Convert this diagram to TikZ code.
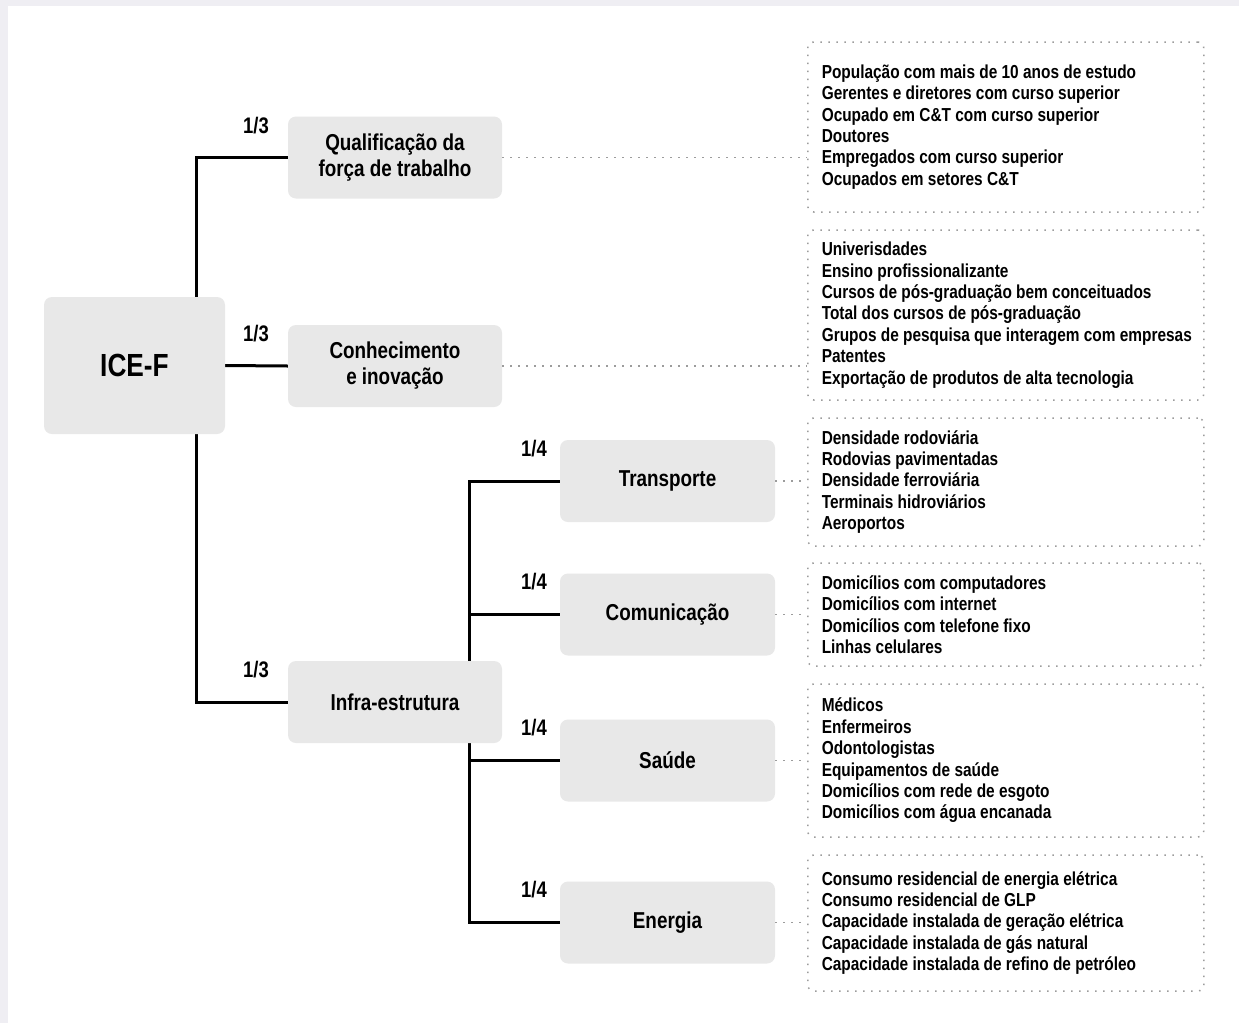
\documentclass[tikz,border=0pt]{standalone}
\usepackage{fontspec}
\setmainfont{Liberation Sans}[FakeStretch=0.82]
\usepackage{tikz}
\usetikzlibrary{
  positioning,
  backgrounds,
  calc
}
\definecolor{iceBox}{HTML}{E8E8E8}
\definecolor{iceDots}{HTML}{9C9C9C}
\definecolor{iceFrame}{HTML}{EFEEF3}
\tikzset{
  dimbox/.style={
    fill=iceBox, rounded corners=8pt, minimum width=214pt, minimum height=82pt,
    align=center, inner sep=0pt, font=\fontsize{23}{26}\selectfont\bfseries
  },
  rootbox/.style={dimbox, minimum width=181pt, minimum height=137pt, font=\fontsize{32}{36}\selectfont\bfseries},
  subbox/.style={dimbox, minimum width=215pt},
  listbox/.style={
    draw=iceDots, line width=1.5pt, dash pattern=on 1.5pt off 6.5pt, rounded corners=6pt,
    text width=368pt, inner xsep=14pt, inner ysep=0pt, anchor=west, align=left,
    font=\fontsize{18.8}{21.4}\selectfont\bfseries,
    execute at begin node={\spaceskip=0pt\xspaceskip=0pt}
  },
  weight/.style={font=\fontsize{22.5}{24}\selectfont\bfseries, inner sep=0pt},
  tree/.style={line width=3pt, black},
  leader/.style={draw=iceDots, line width=1.5pt, dash pattern=on 1.5pt off 6.5pt}
}

\begin{document}
\begin{tikzpicture}[x=1pt, y=-1pt]
  % dimensions
  \node[rootbox] (ice) at (134.5,365.5) {ICE-F};
  \node[dimbox] (qual) at (395,157.5) {Qualificação da\\força de trabalho};
  \node[dimbox] (conh) at (395,366) {Conhecimento\\e inovação};
  \node[dimbox] (infra) at (395,702) {Infra-estrutura};
  \node[subbox] (transp) at (667.5,481) {Transporte};
  \node[subbox] (comun) at (667.5,614.5) {Comunicação};
  \node[subbox] (saude) at (667.5,760.5) {Saúde};
  \node[subbox] (energ) at (667.5,922.5) {Energia};

  % weights
  \node[weight] (wqual) at (256,126) {1/3};
  \node[weight] (wconh) at (256,334) {1/3};
  \node[weight] (winfra) at (256,670) {1/3};
  \node[weight] (wtransp) at (534,449) {1/4};
  \node[weight] (wcomun) at (534,582) {1/4};
  \node[weight] (wsaude) at (534,728) {1/4};
  \node[weight] (wenerg) at (534,890) {1/4};

  % indicators
  \node[listbox, minimum height=170pt] (lqual) at (807,127) {População com mais de 10 anos de estudo\\
    Gerentes e diretores com curso superior\\
    Ocupado em C\&T com curso superior\\
    Doutores\\
    Empregados com curso superior\\
    Ocupados em setores C\&T};
  \node[listbox, minimum height=170pt] (lconh) at (807,315) {Univerisdades\\
    Ensino profissionalizante\\
    Cursos de pós-graduação bem conceituados\\
    Total dos cursos de pós-graduação\\
    \mbox{Grupos de pesquisa que interagem com empresas}\\
    Patentes\\
    Exportação de produtos de alta tecnologia};
  \node[listbox, minimum height=128pt] (ltransp) at (807,482) {Densidade rodoviária\\
    Rodovias pavimentadas\\
    Densidade ferroviária\\
    Terminais hidroviários\\
    Aeroportos};
  \node[listbox, minimum height=103pt] (lcomun) at (807,614.5) {Domicílios com computadores\\
    Domicílios com internet\\
    Domicílios com telefone fixo\\
    Linhas celulares};
  \node[listbox, minimum height=153pt] (lsaude) at (807,760.5) {Médicos\\
    Enfermeiros\\
    Odontologistas\\
    Equipamentos de saúde\\
    Domicílios com rede de esgoto\\
    Domicílios com água encanada};
  \node[listbox, minimum height=136pt] (lenerg) at (807,923) {Consumo residencial de energia elétrica\\
    Consumo residencial de GLP\\
    Capacidade instalada de geração elétrica\\
    Capacidade instalada de gás natural\\
    Capacidade instalada de refino de petróleo};

  % leaders
  \draw[leader] (qual.east) -- (qual.east -| lqual.west);
  \draw[leader] (conh.east) -- (conh.east -| lconh.west);
  \draw[leader] (transp.east) -- (transp.east -| ltransp.west);
  \draw[leader] (comun.east) -- (comun.east -| lcomun.west);
  \draw[leader] (saude.east) -- (saude.east -| lsaude.west);
  \draw[leader] (energ.east) -- (energ.east -| lenerg.west);

  \begin{scope}[on background layer]
    \fill[iceFrame] (0,0) rectangle (1239,1023);
    \fill[white] (8,6) rectangle (1239,1023);
    % tree
    \draw[tree] (qual.west) -- ++(-91,0) |- (infra.west);
    \draw[tree] (ice.east) -- (conh.west);
    \draw[tree] (transp.west) -- ++(-90,0) |- (energ.west);
    \draw[tree] (comun.west) -- ++(-90,0);
    \draw[tree] (saude.west) -- ++(-90,0);
  \end{scope}
\end{tikzpicture}
\end{document}
